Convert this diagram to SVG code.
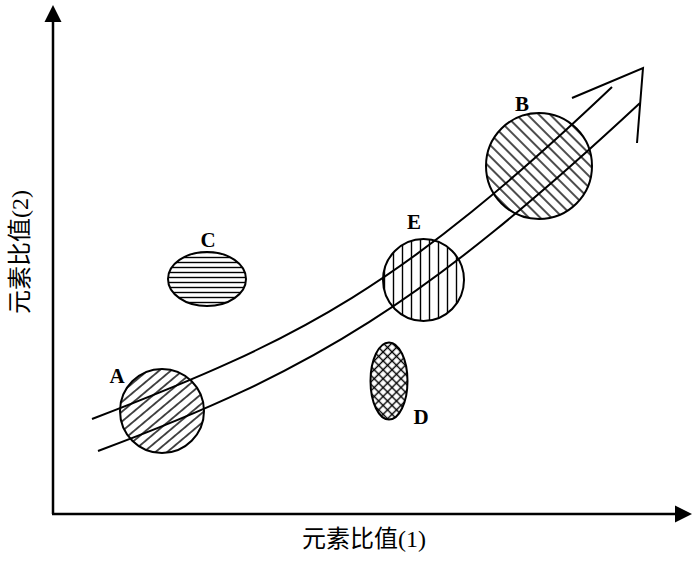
<svg xmlns="http://www.w3.org/2000/svg" width="700" height="561" viewBox="0 0 700 561">
<style>
.axis{stroke:#000;stroke-width:2.5;fill:none}
.curve{stroke:#000;stroke-width:2;fill:none}
.blob{stroke:#000;stroke-width:2}
.lbl{font-family:"Liberation Serif","Times New Roman",serif;font-weight:bold;font-size:21px;fill:#000;text-anchor:middle}
.ax{font-family:"Liberation Serif","Noto Sans CJK SC",serif;font-size:24px;fill:#000;text-anchor:middle}
.h{stroke:#000;stroke-width:1.4}
</style>
<defs>
<pattern id="pA" width="7.5" height="7.5" patternUnits="userSpaceOnUse" patternTransform="rotate(-40)"><rect width="7.5" height="7.5" fill="#fff"/><line class="h" x1="0" y1="3.75" x2="7.5" y2="3.75"/></pattern>
<pattern id="pB" width="8" height="8" patternUnits="userSpaceOnUse" patternTransform="rotate(45)"><rect width="8" height="8" fill="#fff"/><line class="h" x1="0" y1="4" x2="8" y2="4"/></pattern>
<pattern id="pC" width="10" height="5" patternUnits="userSpaceOnUse"><rect width="10" height="5" fill="#fff"/><line class="h" x1="0" y1="2.5" x2="10" y2="2.5"/></pattern>
<pattern id="pE" width="9" height="10" patternUnits="userSpaceOnUse" x="2"><rect width="9" height="10" fill="#fff"/><line class="h" x1="4.5" y1="0" x2="4.5" y2="10"/></pattern>
<pattern id="pD" width="6.3" height="6.3" patternUnits="userSpaceOnUse" patternTransform="rotate(45)"><rect width="6.3" height="6.3" fill="#fff"/><line class="h" x1="0" y1="3.15" x2="6.3" y2="3.15"/><line class="h" x1="3.15" y1="0" x2="3.15" y2="6.3"/></pattern>
</defs>
<rect width="700" height="561" fill="#fff"/>
<g id="axes">
<line class="axis" x1="53" y1="514" x2="53" y2="18"/>
<polygon points="53,5 44.5,22 61.5,22" fill="#000"/>
<line class="axis" x1="52" y1="514" x2="678" y2="514"/>
<polygon points="692,514 675,505.5 675,522.5" fill="#000"/>
<text class="ax" x="364" y="547">元素比值(1)</text>
<text class="ax" transform="translate(28,252) rotate(-90)">元素比值(2)</text>
</g>
<g id="node-A"><circle class="blob" cx="162" cy="411" r="42" fill="url(#pA)"/><text class="lbl" x="117" y="383">A</text></g>
<g id="node-C"><ellipse class="blob" cx="207" cy="279" rx="39" ry="27" fill="url(#pC)"/><text class="lbl" x="208" y="247">C</text></g>
<g id="node-E"><ellipse class="blob" cx="423.5" cy="280" rx="40.5" ry="41" fill="url(#pE)"/><text class="lbl" x="414" y="229">E</text></g>
<g id="node-D"><ellipse class="blob" cx="389" cy="381" rx="18.5" ry="38.5" fill="url(#pD)"/><text class="lbl" x="421" y="424">D</text></g>
<g id="node-B"><circle class="blob" cx="539" cy="166" r="53" fill="url(#pB)"/><text class="lbl" x="522" y="111">B</text></g>
<g id="connectors">
<path class="curve" d="M92,419 C302,339 402,286.5 612,87"/>
<path class="curve" d="M98,451 C313,371.5 425,303 640,103"/>
<polyline class="curve" points="572,98 643,68 637,143"/>
</g>
</svg>
